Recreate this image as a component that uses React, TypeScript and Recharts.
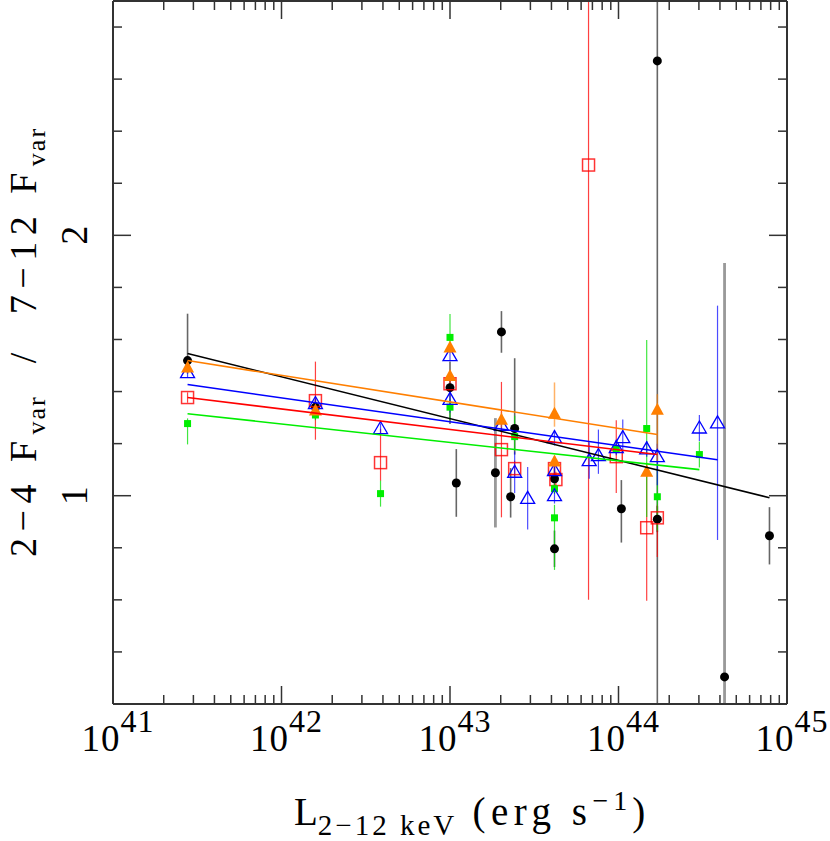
import React from 'react';
import { ScatterChart, Scatter, XAxis, YAxis, ErrorBar } from 'recharts';

// x = L(2-12 keV) in erg/s, y = Fvar ratio, err = [minus, plus]
const blackPts = [
  { x: 2.77e41, y: 1.519, err: [0.05, 0.18] },
  { x: 1.59e42, y: 1.34, err: [0.03, 0.03] },
  { x: 1.0e43, y: 1.415, err: [0.14, 0.1] },
  { x: 1.09e43, y: 1.049, err: [0.13, 0.13] },
  { x: 2.02e43, y: 1.629, err: [0.08, 0.08] },
  { x: 2.42e43, y: 1.258, err: [0.1, 0.27] },
  { x: 2.29e43, y: 0.996, err: [0.08, 0.11] },
  { x: 4.17e43, y: 1.065, err: [0.05, 0.05] },
  { x: 4.17e43, y: 0.796, err: [0.07, 0.07] },
  { x: 1.04e44, y: 0.95, err: [0.13, 0.11] },
  { x: 1.7e44, y: 2.67, err: [2.47, 0.23] },
  { x: 1.7e44, y: 0.91, err: [0.05, 0.05] },
  { x: 7.87e44, y: 0.846, err: [0.11, 0.11] },
];

// black points whose errors are drawn lighter and thicker
const blackWidePts = [
  { x: 1.86e43, y: 1.088, err: [0.21, 0.21] },
  { x: 4.26e44, y: 0.304, err: [0.104, 1.59] },
];

const redPts = [
  { x: 2.77e41, y: 1.377, err: [0.02, 0.02] },
  { x: 1.59e42, y: 1.365, err: [0.15, 0.15] },
  { x: 3.87e42, y: 1.127, err: [0.07, 0.13] },
  { x: 1.0e43, y: 1.43, err: [0.03, 0.03] },
  { x: 2.02e43, y: 1.177, err: [0.26, 0.26] },
  { x: 2.42e43, y: 1.104, err: [0.03, 0.03] },
  { x: 4.17e43, y: 1.104, err: [0.03, 0.03] },
  { x: 4.25e43, y: 1.062, err: [0.03, 0.03] },
  { x: 6.64e43, y: 2.27, err: [1.67, 0.63] },
  { x: 9.7e43, y: 1.15, err: [0.14, 0.14] },
  { x: 1.47e44, y: 0.877, err: [0.28, 0.25] },
  { x: 1.7e44, y: 0.915, err: [0.15, 0.05] },
];

const bluePts = [
  { x: 2.77e41, y: 1.473, err: [0.02, 0.02] },
  { x: 1.59e42, y: 1.354, err: [0.02, 0.02] },
  { x: 3.87e42, y: 1.258, err: [0.02, 0.02] },
  { x: 1.0e43, y: 1.538, err: [0.02, 0.02] },
  { x: 1.0e43, y: 1.37, err: [0.05, 0.05] },
  { x: 2.02e43, y: 1.27, err: [0.02, 0.02] },
  { x: 2.42e43, y: 1.09, err: [0.08, 0.08] },
  { x: 2.89e43, y: 0.99, err: [0.12, 0.12] },
  { x: 4.17e43, y: 1.223, err: [0.03, 0.03] },
  { x: 4.17e43, y: 1.096, err: [0.03, 0.03] },
  { x: 4.17e43, y: 1.0, err: [0.03, 0.03] },
  { x: 6.7e43, y: 1.135, err: [0.07, 0.07] },
  { x: 7.6e43, y: 1.154, err: [0.07, 0.1] },
  { x: 9.7e43, y: 1.185, err: [0.03, 0.03] },
  { x: 1.06e44, y: 1.223, err: [0.06, 0.07] },
  { x: 1.47e44, y: 1.18, err: [0.03, 0.03] },
  { x: 1.7e44, y: 1.15, err: [0.11, 0.05] },
  { x: 3.02e44, y: 1.26, err: [0.05, 0.05] },
  { x: 3.87e44, y: 1.28, err: [0.45, 0.45] },
];

const orangePts = [
  { x: 2.77e41, y: 1.492, err: [0.02, 0.02] },
  { x: 1.59e42, y: 1.327, err: [0.02, 0.02] },
  { x: 1.0e43, y: 1.569, err: [0.02, 0.02] },
  { x: 1.0e43, y: 1.46, err: [0.02, 0.02] },
  { x: 2.02e43, y: 1.292, err: [0.03, 0.03] },
  { x: 4.17e43, y: 1.315, err: [0.05, 0.12] },
  { x: 4.17e43, y: 1.131, err: [0.02, 0.02] },
  { x: 1.47e44, y: 1.092, err: [0.02, 0.02] },
  { x: 1.7e44, y: 1.33, err: [0.2, 0.06] },
];

const greenPts = [
  { x: 2.77e41, y: 1.277, err: [0.08, 0.02] },
  { x: 1.59e42, y: 1.31, err: [0.02, 0.02] },
  { x: 3.87e42, y: 1.008, err: [0.05, 0.05] },
  { x: 1.0e43, y: 1.608, err: [0.03, 0.09] },
  { x: 1.0e43, y: 1.34, err: [0.05, 0.03] },
  { x: 2.42e43, y: 1.227, err: [0.05, 0.08] },
  { x: 4.17e43, y: 1.027, err: [0.02, 0.02] },
  { x: 4.17e43, y: 0.915, err: [0.2, 0.05] },
  { x: 9.7e43, y: 1.18, err: [0.02, 0.02] },
  { x: 1.47e44, y: 1.258, err: [0.34, 0.34] },
  { x: 1.7e44, y: 0.996, err: [0.13, 0.11] },
  { x: 3.02e44, y: 1.158, err: [0.05, 0.05] },
];

// linear fits, end points
const blackFit = [{ x: 2.77e41, y: 1.546 }, { x: 7.87e44, y: 0.992 }];
const orangeFit = [{ x: 2.77e41, y: 1.519 }, { x: 1.7e44, y: 1.235 }];
const blueFit = [{ x: 2.77e41, y: 1.427 }, { x: 3.87e44, y: 1.138 }];
const redFit = [{ x: 2.77e41, y: 1.377 }, { x: 1.7e44, y: 1.158 }];
const greenFit = [{ x: 2.77e41, y: 1.315 }, { x: 3.02e44, y: 1.1 }];

const decades = [41, 42, 43, 44, 45];
const xTicks = decades.flatMap((d) =>
  d === 45 ? [10 ** d] : [1, 2, 3, 4, 5, 6, 7, 8, 9].map((m) => m * 10 ** d)
);
const yTicks = [0.2, 0.4, 0.6, 0.8, 1, 1.2, 1.4, 1.6, 1.8, 2, 2.2, 2.4, 2.6, 2.8];
const yLabels = [1, 2];

const FONT = '"Liberation Serif", "DejaVu Serif", serif';
const AXIS = '#333';

const isDecade = (v: number) => Math.abs(Math.log10(v) - Math.round(Math.log10(v))) < 1e-6;
const isYMajor = (v: number) => yLabels.some((l) => Math.abs(l - v) < 1e-6);

const BottomTick = (p: any) => {
  const { x, y, payload } = p;
  const major = isDecade(payload.value);
  return (
    <g>
      <line x1={x} x2={x} y1={y} y2={y - (major ? 18 : 9)} stroke={AXIS} strokeWidth={1.5} />
      {major && (
        <text x={x + 5} y={y + 47} textAnchor="middle" fontFamily={FONT} fontSize={37} letterSpacing={1} fill="#000">
          10<tspan dy={-19} fontSize={32}>{Math.round(Math.log10(payload.value))}</tspan>
        </text>
      )}
    </g>
  );
};

const TopTick = (p: any) => {
  const { x, y, payload } = p;
  const major = isDecade(payload.value);
  return <line x1={x} x2={x} y1={y} y2={y + (major ? 18 : 9)} stroke={AXIS} strokeWidth={1.5} />;
};

const LeftTick = (p: any) => {
  const { x, y, payload } = p;
  const major = isYMajor(payload.value);
  return (
    <g>
      <line x1={x} x2={x + (major ? 18 : 9)} y1={y} y2={y} stroke={AXIS} strokeWidth={1.5} />
      {major && (
        <text transform={`translate(${x - 26},${y}) rotate(-90)`} textAnchor="middle" fontFamily={FONT} fontSize={38} fill="#000">
          {payload.value}
        </text>
      )}
    </g>
  );
};

const RightTick = (p: any) => {
  const { x, y, payload } = p;
  const major = isYMajor(payload.value);
  return <line x1={x} x2={x - (major ? 18 : 9)} y1={y} y2={y} stroke={AXIS} strokeWidth={1.5} />;
};

const Dot = (p: any) => <circle cx={p.cx} cy={p.cy} r={4.5} fill="#000" />;
const OpenSquare = (p: any) => (
  <rect x={p.cx - 6} y={p.cy - 6} width={12} height={12} fill="none" stroke="#ff0000" strokeOpacity={0.8} strokeWidth={1.5} />
);
const OpenTri = (p: any) => (
  <polygon
    points={`${p.cx - 7},${p.cy + 5} ${p.cx + 7},${p.cy + 5} ${p.cx},${p.cy - 7}`}
    fill="none" stroke="#0000ff" strokeWidth={1.3}
  />
);
const FillTri = (p: any) => (
  <polygon points={`${p.cx - 6.5},${p.cy + 5} ${p.cx + 6.5},${p.cy + 5} ${p.cx},${p.cy - 7}`} fill="#ff7f00" />
);
const GreenSq = (p: any) => <rect x={p.cx - 3.5} y={p.cy - 3.5} width={7} height={7} fill="#00ee00" />;
const NoShape = () => <g />;

export default function App() {
  return (
    <div style={{ position: 'absolute', left: 0, top: 0, width: 830, height: 841, background: '#fff' }}>
      <ScatterChart width={830} height={841} margin={{ top: 0, right: 0, bottom: 0, left: 0 }}>
        <XAxis
          dataKey="x" type="number" scale="log" domain={[1e41, 1e45]} allowDataOverflow
          ticks={xTicks} interval={0} tick={BottomTick} tickLine={false} tickSize={0} tickMargin={0}
          height={137} axisLine={{ stroke: AXIS, strokeWidth: 2 }}
        />
        <XAxis
          xAxisId="top" orientation="top" dataKey="x" type="number" scale="log" domain={[1e41, 1e45]} allowDataOverflow
          ticks={xTicks} interval={0} tick={TopTick} tickLine={false} tickSize={0} tickMargin={0}
          height={1} axisLine={{ stroke: AXIS, strokeWidth: 2 }}
        />
        <YAxis
          dataKey="y" type="number" domain={[0.2, 2.9]} allowDataOverflow
          ticks={yTicks} interval={0} tick={LeftTick} tickLine={false} tickSize={0} tickMargin={0}
          width={113} axisLine={{ stroke: AXIS, strokeWidth: 2 }}
        />
        <YAxis
          yAxisId="right" orientation="right" dataKey="y" type="number" domain={[0.2, 2.9]} allowDataOverflow
          ticks={yTicks} interval={0} tick={RightTick} tickLine={false} tickSize={0} tickMargin={0}
          width={43} axisLine={{ stroke: AXIS, strokeWidth: 2 }}
        />

        <Scatter data={blackWidePts} shape={Dot} isAnimationActive={false}>
          <ErrorBar dataKey="err" direction="y" width={0} stroke="#999" strokeWidth={2.8} />
        </Scatter>
        <Scatter data={blackPts} shape={Dot} isAnimationActive={false}>
          <ErrorBar dataKey="err" direction="y" width={0} stroke="#000" strokeOpacity={0.6} strokeWidth={1.6} />
        </Scatter>
        <Scatter data={redPts} shape={OpenSquare} isAnimationActive={false}>
          <ErrorBar dataKey="err" direction="y" width={0} stroke="#ff0000" strokeOpacity={0.75} strokeWidth={1.2} />
        </Scatter>
        <Scatter data={greenPts} shape={GreenSq} isAnimationActive={false}>
          <ErrorBar dataKey="err" direction="y" width={0} stroke="#00dd00" strokeOpacity={0.75} strokeWidth={1.2} />
        </Scatter>
        <Scatter data={bluePts} shape={OpenTri} isAnimationActive={false}>
          <ErrorBar dataKey="err" direction="y" width={0} stroke="#0000ff" strokeOpacity={0.7} strokeWidth={1.2} />
        </Scatter>
        <Scatter data={orangePts} shape={FillTri} isAnimationActive={false}>
          <ErrorBar dataKey="err" direction="y" width={0} stroke="#ff7f00" strokeOpacity={0.6} strokeWidth={1.5} />
        </Scatter>

        <Scatter data={blackFit} shape={NoShape} line={{ stroke: '#000', strokeWidth: 1.6 }} isAnimationActive={false} />
        <Scatter data={orangeFit} shape={NoShape} line={{ stroke: '#ff7f00', strokeWidth: 1.6 }} isAnimationActive={false} />
        <Scatter data={blueFit} shape={NoShape} line={{ stroke: '#0000ff', strokeWidth: 1.6 }} isAnimationActive={false} />
        <Scatter data={redFit} shape={NoShape} line={{ stroke: '#ff0000', strokeWidth: 1.6 }} isAnimationActive={false} />
        <Scatter data={greenFit} shape={NoShape} line={{ stroke: '#00ee00', strokeWidth: 1.6 }} isAnimationActive={false} />

        <text x={294} y={825} fontFamily={FONT} fontSize={39} fill="#000" style={{ whiteSpace: 'pre' }}>
          L<tspan dy={10} fontSize={29} letterSpacing={3}>2−12 keV</tspan>
          <tspan dy={-10} fontSize={39} letterSpacing={5.5}> (erg s</tspan>
          <tspan dy={-15} fontSize={28} letterSpacing={5}>−1</tspan>
          <tspan dy={15} fontSize={39}>)</tspan>
        </text>
        <text
          transform="translate(36,342) rotate(-90)" textAnchor="middle" fontFamily={FONT} fontSize={38} fill="#000"
          style={{ whiteSpace: 'pre' }}
        >
          <tspan letterSpacing={6.5}>2−4 F</tspan>
          <tspan dy={9} fontSize={26} letterSpacing={2}>var</tspan>
          <tspan dy={-9} fontSize={38} letterSpacing={6.5}>  /  7−12 F</tspan>
          <tspan dy={9} fontSize={26} letterSpacing={2}>var</tspan>
        </text>
      </ScatterChart>
    </div>
  );
}
